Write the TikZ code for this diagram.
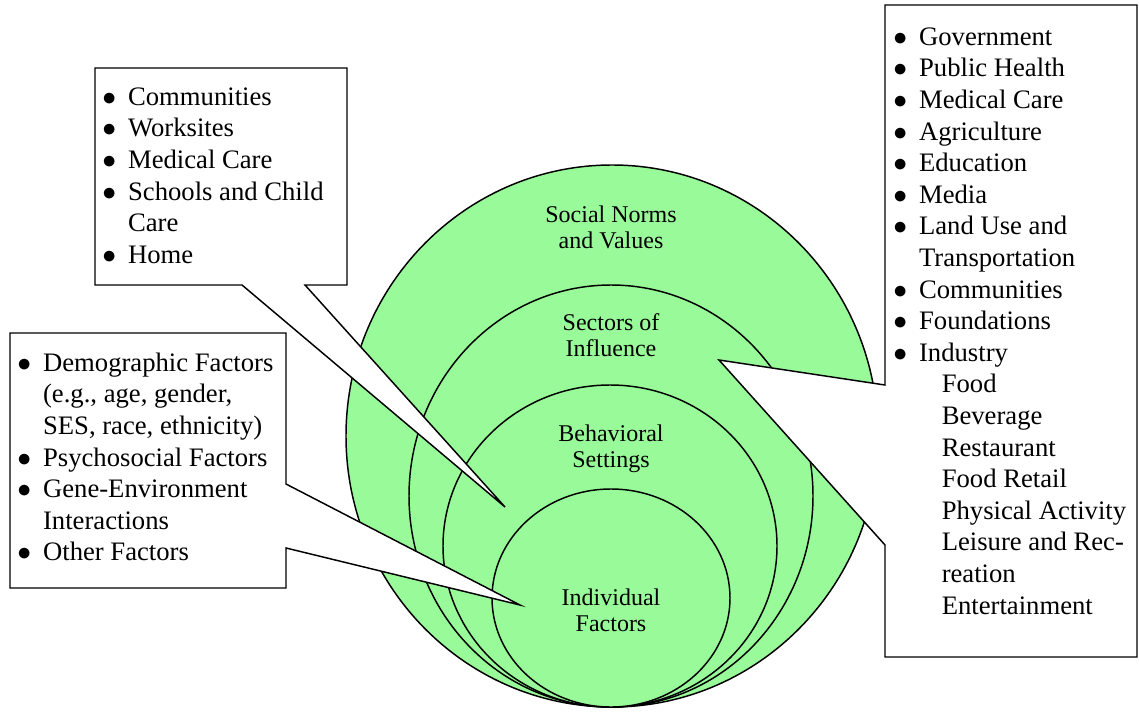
\documentclass[tikz,border=0pt]{standalone}
\usepackage{fontspec}
\setmainfont{Liberation Serif}
\usetikzlibrary{calc}
\definecolor{ringgreen}{RGB}{153,250,153}
\newcommand{\listdot}{$\bullet$}

\begin{document}
\begin{tikzpicture}[
    x=0.75pt, y=-0.75pt,
    ring/.style={draw=black,fill=ringgreen,line width=1.1pt},
    callout/.style={draw=black,fill=white,line width=1.1pt,line join=miter},
    listtext/.style={anchor=north west,inner sep=0pt,align=left,font=\rmfamily\fontsize{20}{23.7}\selectfont},
    ringlabel/.style={align=center,inner sep=0pt,font=\rmfamily\fontsize{18}{19.5}\selectfont}
]
    \useasboundingbox (0,0) rectangle (1139,717);

    % Nested rings, all touching at the bottom
    \draw[ring] (612,436) ellipse [x radius=266, y radius=271];
    \draw[ring] (611,496) ellipse [x radius=202, y radius=211];
    \draw[ring] (610,546) ellipse [x radius=167, y radius=161];
    \draw[ring] (611,598) ellipse [x radius=119, y radius=109];

    % Ring labels
    \node[ringlabel] (norms) at (611,227) {Social Norms\\and Values};
    \node[ringlabel] (sectors) at (611,335) {Sectors of\\Influence};
    \node[ringlabel] (settings) at (611,449) {Behavioral\\Settings};
    \node[ringlabel] (individual) at (611,610) {Individual\\Factors};

    % Callout tips
    \coordinate (settingstip) at (505,507);
    \coordinate (individualtip) at (520,605);
    \coordinate (sectorstip) at (719,360);

    % Callout outlines (box and tail in one path)
    \draw[callout] (305,285) -- (347,285) -- (347,68) -- (95,68) -- (95,285) -- (242,285) -- (settingstip) -- cycle;
    \draw[callout] (286,548) -- (286,588) -- (10,588) -- (10,333) -- (286,333) -- (286,484) -- (individualtip) -- cycle;
    \draw[callout] (885,385) -- (885,5) -- (1137,5) -- (1137,657) -- (885,657) -- (885,545) -- (sectorstip) -- cycle;

    % Callout texts
    \node[listtext] (settingslist) at (102,83) {%
        \begin{tabular}{@{}l@{\hspace{9pt}}l@{}}
            \listdot & Communities\\
            \listdot & Worksites\\
            \listdot & Medical Care\\
            \listdot & Schools and Child\\
                     & Care\\
            \listdot & Home
        \end{tabular}};
    \node[listtext] (individuallist) at (17,349) {%
        \begin{tabular}{@{}l@{\hspace{9pt}}l@{}}
            \listdot & Demographic Factors\\
                     & (e.g., age, gender,\\
                     & SES, race, ethnicity)\\
            \listdot & Psychosocial Factors\\
            \listdot & Gene-Environment\\
                     & Interactions\\
            \listdot & Other Factors
        \end{tabular}};
    \node[listtext] (sectorslist) at (893,23) {%
        \begin{tabular}{@{}l@{\hspace{9pt}}l@{}}
            \listdot & Government\\
            \listdot & Public Health\\
            \listdot & Medical Care\\
            \listdot & Agriculture\\
            \listdot & Education\\
            \listdot & Media\\
            \listdot & Land Use and\\
                     & Transportation\\
            \listdot & Communities\\
            \listdot & Foundations\\
            \listdot & Industry\\
                     & \hspace{17pt}Food\\
                     & \hspace{17pt}Beverage\\
                     & \hspace{17pt}Restaurant\\
                     & \hspace{17pt}Food Retail\\
                     & \hspace{17pt}Physical Activity\\
                     & \hspace{17pt}Leisure and Rec-\\
                     & \hspace{17pt}reation\\
                     & \hspace{17pt}Entertainment
        \end{tabular}};
\end{tikzpicture}
\end{document}
